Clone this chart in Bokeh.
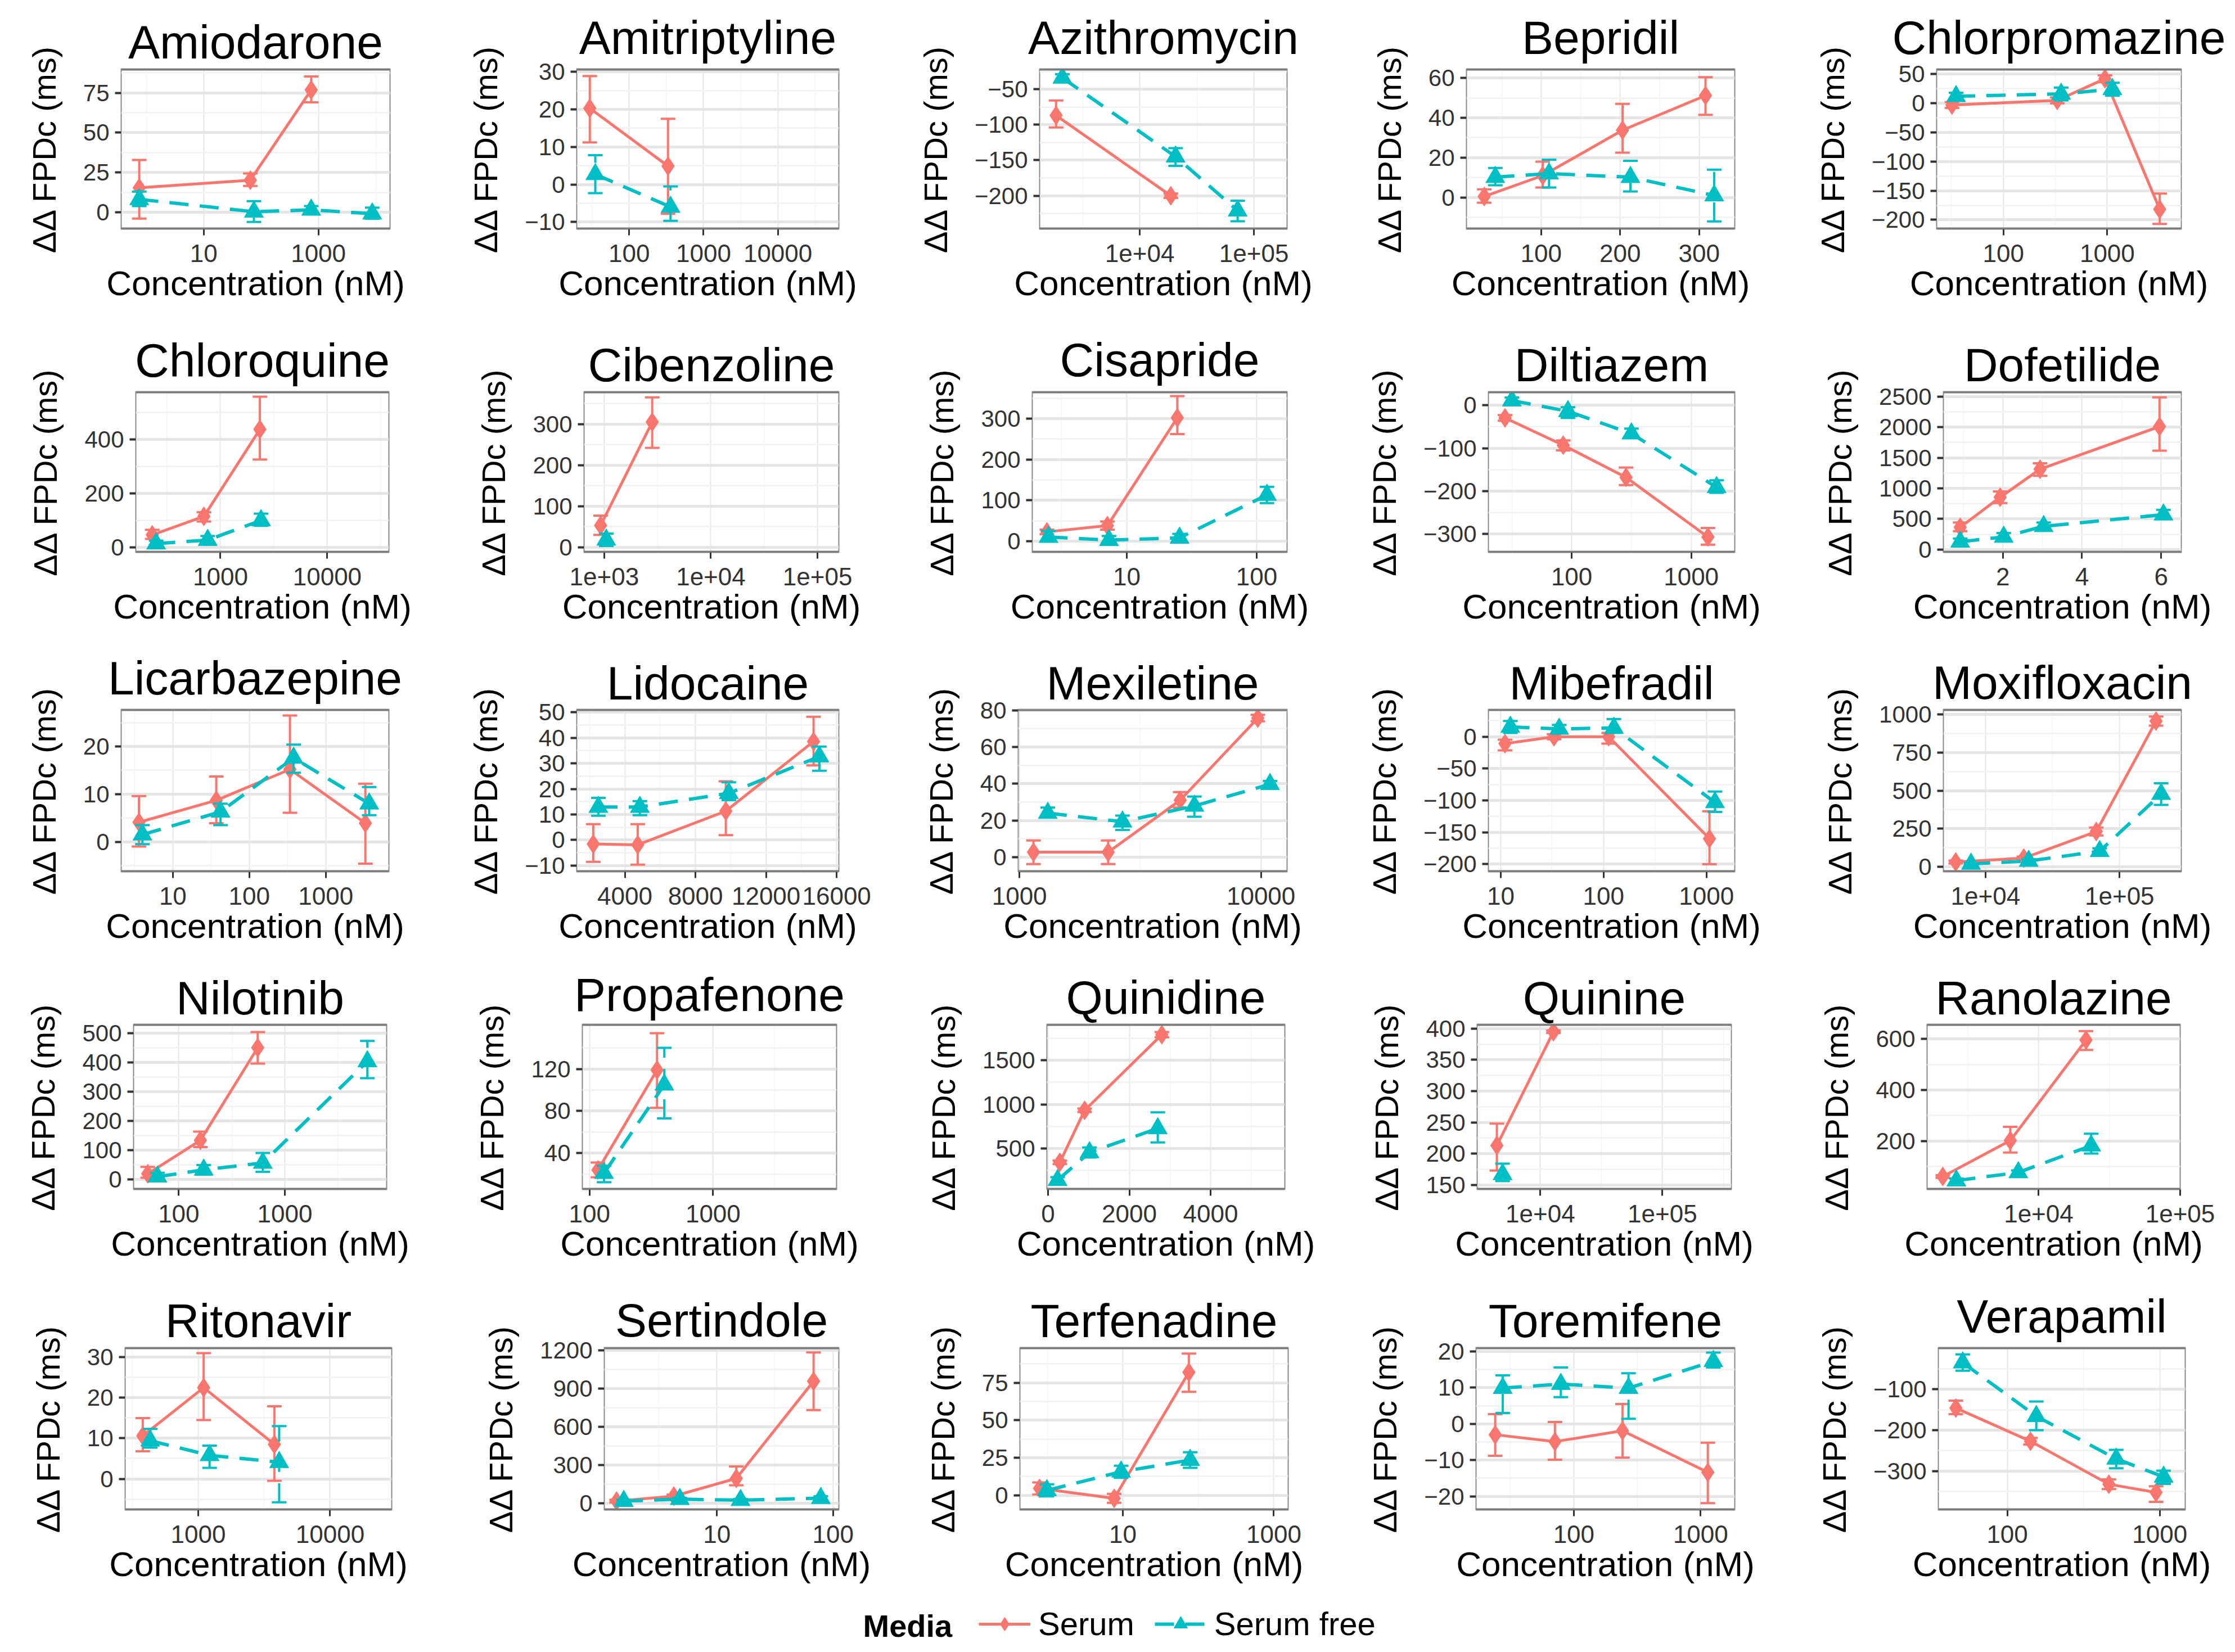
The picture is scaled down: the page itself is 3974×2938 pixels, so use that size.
import math
from bokeh.plotting import figure
from bokeh.layouts import column, row
from bokeh.models import Range1d, FixedTicker, Span, Label, Legend, LegendItem
from bokeh.embed import file_html
from bokeh.resources import INLINE

# ---------------- data ----------------
DRUGS = ["Amiodarone", "Amitriptyline", "Azithromycin", "Bepridil", "Chlorpromazine",
         "Chloroquine", "Cibenzoline", "Cisapride", "Diltiazem", "Dofetilide",
         "Licarbazepine", "Lidocaine", "Mexiletine", "Mibefradil", "Moxifloxacin",
         "Nilotinib", "Propafenone", "Quinidine", "Quinine", "Ranolazine",
         "Ritonavir", "Sertindole", "Terfenadine", "Toremifene", "Verapamil"]
MEDIA = ["Serum", "Serum free"]

X_LOG = [True, True, True, False, True,
         True, True, True, True, False,
         True, False, True, True, True,
         True, True, False, True, True,
         True, True, True, True, True]

X_LIM = [(0.363, 17783), (19.7, 66069), (1327, 194984), (5.5, 345), (22.75, 5164),
         (161.4, 37757), (647, 158489), (1.875, 171.4), (20.1, 2312), (0.495, 6.51),
         (2.109, 6699), (1274, 16122), (988.5, 12823), (7.586, 1884), (4853, 288403),
         (37.5, 9120), (87.5, 10000), (-28, 5826), (3034, 367282), (1626, 100000),
         (279.3, 29309), (1.074, 112.2), (0.4345, 1549), (16.94, 1858), (35.3, 1469)]

Y_LIM = [(-10.5, 90), (-11.9, 30.8), (-247, -21.4), (-15.9, 64.6), (-216, 59),
         (-19, 578), (-12.8, 379), (-27.7, 366), (-343, 31.8), (-47, 2579),
         (-6.3, 27.8), (-12.5, 51.2), (-8, 80.5), (-212, 43), (-32, 1032),
         (-33.6, 530), (5.4, 162.5), (34, 1909), (142.6, 407), (10, 658),
         (-7.7, 32.4), (-51, 1223), (-9.8, 98.5), (-23.8, 21.1), (-395, 1.8)]

X_TICKS = [[10, 1000], [100, 1000, 10000], [1e4, 1e5], [100, 200, 300], [100, 1000],
           [1000, 10000], [1e3, 1e4, 1e5], [10, 100], [100, 1000], [2, 4, 6],
           [10, 100, 1000], [4000, 8000, 12000, 16000], [1000, 10000], [10, 100, 1000], [1e4, 1e5],
           [100, 1000], [100, 1000], [0, 2000, 4000], [1e4, 1e5], [1e4, 1e5],
           [1000, 10000], [1, 10, 100], [10, 1000], [100, 1000], [100, 1000]]
X_TICK_LABELS = [["10", "1000"], ["100", "1000", "10000"], ["1e+04", "1e+05"], ["100", "200", "300"], ["100", "1000"],
                 ["1000", "10000"], ["1e+03", "1e+04", "1e+05"], ["10", "100"], ["100", "1000"], ["2", "4", "6"],
                 ["10", "100", "1000"], ["4000", "8000", "12000", "16000"], ["1000", "10000"], ["10", "100", "1000"], ["1e+04", "1e+05"],
                 ["100", "1000"], ["100", "1000"], ["0", "2000", "4000"], ["1e+04", "1e+05"], ["1e+04", "1e+05"],
                 ["1000", "10000"], ["1", "10", "100"], ["10", "1000"], ["100", "1000"], ["100", "1000"]]
Y_TICKS = [[0, 25, 50, 75], [-10, 0, 10, 20, 30], [-200, -150, -100, -50], [0, 20, 40, 60], [-200, -150, -100, -50, 0, 50],
           [0, 200, 400], [0, 100, 200, 300], [0, 100, 200, 300], [-300, -200, -100, 0], [0, 500, 1000, 1500, 2000, 2500],
           [0, 10, 20], [-10, 0, 10, 20, 30, 40, 50], [0, 20, 40, 60, 80], [-200, -150, -100, -50, 0], [0, 250, 500, 750, 1000],
           [0, 100, 200, 300, 400, 500], [40, 80, 120], [500, 1000, 1500], [150, 200, 250, 300, 350, 400], [200, 400, 600],
           [0, 10, 20, 30], [0, 300, 600, 900, 1200], [0, 25, 50, 75], [-20, -10, 0, 10, 20], [-300, -200, -100]]

# Serum (red, solid)
SERUM_X = [[0.75, 65, 750], [29.5, 333], [1850, 18700], [28, 102, 203, 308], [32, 330, 950, 3200],
           [230, 700, 2340], [925, 2820], [2.43, 7.1, 24.5], [27.7, 85, 285, 1380], [0.92, 1.93, 2.94, 5.96],
           [3.6, 37, 340, 3300], [2210, 4730, 9720, 14690], [1143, 2330, 4630, 9700], [11, 33, 112, 1070], [6000, 19300, 67000, 187000],
           [51, 160, 555], [117, 352], [290, 900, 2800], [4400, 12800], [2100, 6300, 21600],
           [380, 1100, 3780], [1.37, 4.26, 14.7, 68], [0.79, 7.7, 75], [24, 71, 242, 1140], [46, 142, 464, 946]]
SERUM_Y = [[15.4, 20.2, 76.8], [20.3, 4.9], [-87, -200], [0.5, 11, 33.8, 51.2], [-3, 5, 42, -182],
           [46, 115, 438], [53, 305], [22.7, 38, 302], [-29.5, -93, -168, -307], [364, 854, 1313, 2009],
           [4.1, 8.7, 15.2, 3.9], [-1.6, -1.9, 11.3, 38.6], [2.7, 2.7, 31, 75.7], [-10.8, 0, 0, -160], [32, 58, 232, 955],
           [20, 134, 450], [24, 119], [342, 932, 1790], [213, 395], [61, 202, 596],
           [10.6, 22.5, 8.5], [19, 58, 197, 959], [4.6, -2, 82], [-3, -4.9, -1.9, -13.4], [-146, -227, -332, -352]]
SERUM_LO = [[-3.9, 16.6, 69], [11.2, -7.8], [-104, -203], [-2.6, 5, 22.5, 41.5], [-8, 0, 36, -207],
            [31, 96, 326], [30, 242], [17, 28, 262], [-36, -105, -186, -325], [300, 759, 1203, 1614],
            [-1, 3.9, 6.1, -4.6], [-8.6, -9.7, 1.9, 29.2], [-3.8, -3.8, 27, 74], [-21.5, -4, -10.8, -200], [22, 48, 206, 925],
            [6.7, 111, 396], [17, 83], [322, 912, 1760], [173, 393], [56, 155, 557],
            [6.8, 14.5, -0.5], [9, 46, 143, 733], [0.6, -5, 69], [-8.8, -9.9, -9.3, -21.9], [-161, -235, -344, -375]]
SERUM_HI = [[32.9, 24.4, 85.2], [28.9, 17.5], [-66, -197], [4.1, 18, 47, 60.4], [2, 10, 48, -155],
            [65, 130, 559], [77, 365], [28, 48, 355], [-23, -82, -145, -286], [443, 949, 1408, 2484],
            [9.6, 13.7, 26.5, 12.2], [6.2, 6.2, 23, 48.3], [9.1, 9.1, 35.4, 77.5], [-4.6, 4, 6, -117], [42, 68, 258, 985],
            [43.6, 164, 503], [31, 154], [362, 952, 1820], [248, 397], [66, 256, 631],
            [15, 31, 17.9], [29, 70, 291, 1184], [8.6, 1, 94.5], [2.7, 0.5, 5.5, -5.2], [-128, -219, -320, -337]]

# Serum free (cyan, dashed)
FREE_X = [[0.75, 75, 750, 8700], [35, 360], [2100, 20600, 72000], [42, 110, 213, 319], [35, 360, 1120],
          [250, 760, 2400], [1045], [2.5, 7.3, 25.5, 120], [31.6, 93, 316, 1630], [0.92, 2.02, 3.03, 6.06],
          [4, 42, 380, 3700], [2500, 4850, 9890, 15020], [1310, 2670, 5300, 10900], [12.4, 37, 126, 1210], [7800, 21000, 71000, 204000],
          [63, 172, 620, 6000], [131, 403], [235, 1020, 2700], [4900], [2620, 7180, 23500],
          [433, 1220, 4110], [1.58, 4.8, 16, 78.5], [0.99, 9.5, 78], [27.5, 79, 270, 1260], [51, 155, 518, 1060]]
FREE_Y = [[8.2, 0.4, 1.6, -0.8], [2.7, -6], [-34, -145, -221], [10.2, 12, 10.2, 1], [12, 16, 24],
          [14, 27, 100], [18], [10, 2.5, 8, 113], [11, -14, -66, -191], [127, 206, 380, 570],
          [1.5, 6.3, 17.6, 8], [12.9, 12.9, 18.3, 32.7], [24, 19.3, 27.9, 39.7], [15.4, 12.3, 13.8, -103], [20, 39, 103, 477],
          [10, 33.6, 57, 403], [21, 105], [140, 455, 727], [167], [45, 77, 182],
          [9.4, 5.8, 4.1], [19, 34, 26, 42], [3.3, 15.7, 23.5], [9.9, 11, 9.9, 17.3], [-35, -166, -270, -314]]
FREE_LO = [[4, -6, -1, -4], [-2.3, -9.7], [-39, -158, -236], [6.1, 5, 3, -12], [5, 5, 13],
           [8, 11, 80], [3], [0, -7.5, -2.5, 93], [2, -29.5, -75, -204], [75, 142, 316, 506],
           [-0.5, 3.5, 14.5, 5.6], [9.5, 9.7, 15.6, 27.1], [22, 14.8, 22, 38], [6, 6, 6, -118], [14, 27, 77, 406],
           [-3.4, 17, 27, 346], [12.4, 73], [110, 398, 568], [156], [37, 69, 151],
           [7.7, 2.7, -5.8], [9, 24, 16, 27], [-0.7, 11.7, 18.3], [3, 7.4, 1.4, 15.6], [-55, -200, -293, -331]]
FREE_HI = [[13, 7, 4, 3], [7.8, -0.5], [-29, -133, -207], [14.8, 19, 18.4, 14], [18, 27, 35],
           [25, 42, 125], [33], [25, 12.6, 17.6, 133], [18, -4.5, -54.5, -175], [180, 269, 443, 649],
           [3.5, 8, 20.4, 11.5], [16.5, 15.2, 22.6, 36.6], [27, 22.6, 33, 41.5], [24.6, 18.5, 27.7, -86], [26, 51, 122, 548],
           [23.5, 50, 91, 473], [28, 140], [175, 511, 909], [184], [53, 85, 229],
           [12.3, 8.2, 13], [29, 44, 36, 57], [7.3, 19.7, 28.7], [13.4, 15.6, 14, 19.7], [-15, -130, -248, -299]]

X_LABEL = "Concentration (nM)"
Y_LABEL = "ΔΔ FPDc (ms)"

# ---------------- layout (image pixel geometry) ----------------
FRAMES = [(223, 701, 114, 425), (1033, 1499, 130, 425), (1856, 2296, 130, 425), (2615, 3092, 130, 420), (3451, 3886, 130, 415),
          (249, 699, 702, 993), (1046, 1499, 686, 995), (1843, 2296, 704, 995), (2654, 3092, 685, 990), (3463, 3886, 685, 992),
          (223, 699, 1269, 1562), (1033, 1499, 1252, 1560), (1818, 2296, 1252, 1560), (2654, 3092, 1251, 1558), (3463, 3886, 1253, 1558),
          (245, 695, 1814, 2128), (1043, 1495, 1829, 2126), (1869, 2292, 1818, 2126), (2634, 3086, 1817, 2123), (3434, 3884, 1816, 2123),
          (230, 704, 2388, 2698), (1082, 1499, 2390, 2696), (1821, 2298, 2388, 2698), (2632, 3092, 2389, 2693), (3454, 3893, 2404, 2693)]
TITLE_BASE = [95, 667, 1235, 1800, 2370]
COL_EDGES = [8, 795, 1590, 2385, 3180, 3966]
ROW_EDGES = [8, 570, 1140, 1710, 2280, 2850]

RED = "#F8766D"
CYAN = "#00BFC4"
FONT = "Liberation Sans"
TITLE_PX = 84
DASH = "34 20"
STYLE = [(RED, "solid", "diamond", 5, 34), (CYAN, DASH, "triangle", 6, 34)]


def minors(ticks, log):
    v = [math.log10(t) for t in ticks] if log else list(ticks)
    d = (v[1] - v[0]) if len(v) > 1 else 1.0
    m = [v[0] - 1.5 * d, v[0] - d / 2] + [(a + b) / 2 for a, b in zip(v, v[1:])] + [v[-1] + d / 2, v[-1] + 1.5 * d]
    return [10 ** x for x in m] if log else m


def panel(i):
    r, c = divmod(i, 5)
    x0, x1, y0, y1 = FRAMES[i]
    cl, cr = COL_EDGES[c], COL_EDGES[c + 1]
    rt, rb = ROW_EDGES[r], ROW_EDGES[r + 1]
    log = X_LOG[i]
    p = figure(width=cr - cl, height=rb - rt,
               x_axis_type="log" if log else "linear",
               x_range=Range1d(*X_LIM[i]), y_range=Range1d(*Y_LIM[i]),
               min_border_left=x0 - cl, min_border_right=cr - x1,
               min_border_top=y0 - rt, min_border_bottom=rb - y1,
               output_backend="svg", toolbar_location=None, title=DRUGS[i])
    p.title.text_font = FONT
    p.title.text_font_size = f"{TITLE_PX}px"
    p.title.text_font_style = "normal"
    p.title.text_color = "black"
    p.title.align = "center"
    p.title.standoff = max(0, y0 - TITLE_BASE[r] - int(0.21 * TITLE_PX))

    xt = FixedTicker(ticks=X_TICKS[i], minor_ticks=minors(X_TICKS[i], log))
    yt = FixedTicker(ticks=Y_TICKS[i], minor_ticks=minors(Y_TICKS[i], False))
    p.xaxis.ticker = xt
    p.xgrid.ticker = xt
    p.yaxis.ticker = yt
    p.ygrid.ticker = yt
    p.xaxis.major_label_overrides = {t: s for t, s in zip(X_TICKS[i], X_TICK_LABELS[i])}

    for ax in (p.xaxis[0], p.yaxis[0]):
        ax.axis_line_color = None
        ax.major_tick_in = 0
        ax.major_tick_out = 11
        ax.minor_tick_line_color = None
        ax.major_tick_line_color = "#333333"
        ax.major_label_text_font = FONT
        ax.major_label_text_color = "#333333"
        ax.axis_label_text_font = FONT
        ax.axis_label_text_font_style = "normal"
        ax.axis_label_text_color = "black"
    p.xaxis.major_tick_line_width = 3
    p.yaxis.major_tick_line_width = 4
    p.xaxis.major_label_text_font_size = "44px"
    p.yaxis.major_label_text_font_size = "42px"
    p.xaxis.major_label_standoff = 16
    p.yaxis.major_label_standoff = 10
    p.xaxis.axis_label = X_LABEL
    p.yaxis.axis_label = Y_LABEL
    p.xaxis.axis_label_text_font_size = "62px"
    p.yaxis.axis_label_text_font_size = "58px"
    p.xaxis.axis_label_standoff = 0
    p.yaxis.axis_label_standoff = 34

    p.xgrid.grid_line_color = "#e5e5e5"
    p.xgrid.grid_line_width = 2
    p.ygrid.grid_line_color = "#e5e5e5"
    p.ygrid.grid_line_width = 5
    p.xgrid.minor_grid_line_color = "#f3f3f3"
    p.xgrid.minor_grid_line_width = 1.5
    p.ygrid.minor_grid_line_color = "#f3f3f3"
    p.ygrid.minor_grid_line_width = 3
    p.outline_line_color = "#8a8a8a"
    p.outline_line_width = 2
    p.background_fill_color = "white"
    for loc in (p.y_range.start, p.y_range.end):
        p.add_layout(Span(location=loc, dimension="width", line_color="#7a7a7a", line_width=6))

    data = [(SERUM_X[i], SERUM_Y[i], SERUM_LO[i], SERUM_HI[i]),
            (FREE_X[i], FREE_Y[i], FREE_LO[i], FREE_HI[i])]
    for (xs, ys, lo, hi), (col, dash, mk, lw, ms) in zip(data, STYLE):
        p.segment(x0=xs, y0=lo, x1=xs, y1=hi, line_color=col, line_width=4, line_dash=dash)
        p.scatter(x=xs, y=lo, marker="dash", size=26, line_color=col, line_width=4)
        p.scatter(x=xs, y=hi, marker="dash", size=26, line_color=col, line_width=4)
        p.line(x=xs, y=ys, line_color=col, line_width=lw, line_dash=dash)
        p.scatter(x=xs, y=ys, marker=mk, size=ms, fill_color=col, line_color=col)
    return p


rows = []
for r in range(5):
    rows.append(row(*[panel(r * 5 + c) for c in range(5)]))

# ---------------- legend strip ----------------
LW, LH = COL_EDGES[-1] - COL_EDGES[0], 80
lg = figure(width=LW, height=LH, x_range=Range1d(0, LW), y_range=Range1d(0, LH),
            min_border=0, x_axis_location=None, y_axis_location=None,
            output_backend="svg", toolbar_location=None)
lg.outline_line_color = None
lg.grid.visible = False
items = []
NAN = float("nan")
for name, (col, dash, mk, lw, ms) in zip(MEDIA, STYLE):
    rl = lg.line(x=[NAN, NAN], y=[NAN, NAN], line_color=col, line_width=lw, line_dash=dash)
    rm = lg.scatter(x=[NAN], y=[NAN], marker=mk, size=ms, fill_color=col, line_color=col)
    items.append(LegendItem(label=name, renderers=[rl, rm]))
leg = Legend(items=items, orientation="horizontal", location=(1740, 1),
             glyph_width=92, glyph_height=60, label_standoff=14, spacing=36,
             padding=0, margin=0, border_line_color=None, background_fill_alpha=0,
             label_text_font=FONT, label_text_font_size="58px", label_text_color="black")
lg.add_layout(leg)
lg.add_layout(Label(x=1534, y=31, text="Media", text_font=FONT, text_font_size="56px",
                    text_font_style="bold", text_color="black", text_baseline="middle"))

layout = column(*rows, lg)
open("out.html", "w").write(file_html(layout, INLINE))
